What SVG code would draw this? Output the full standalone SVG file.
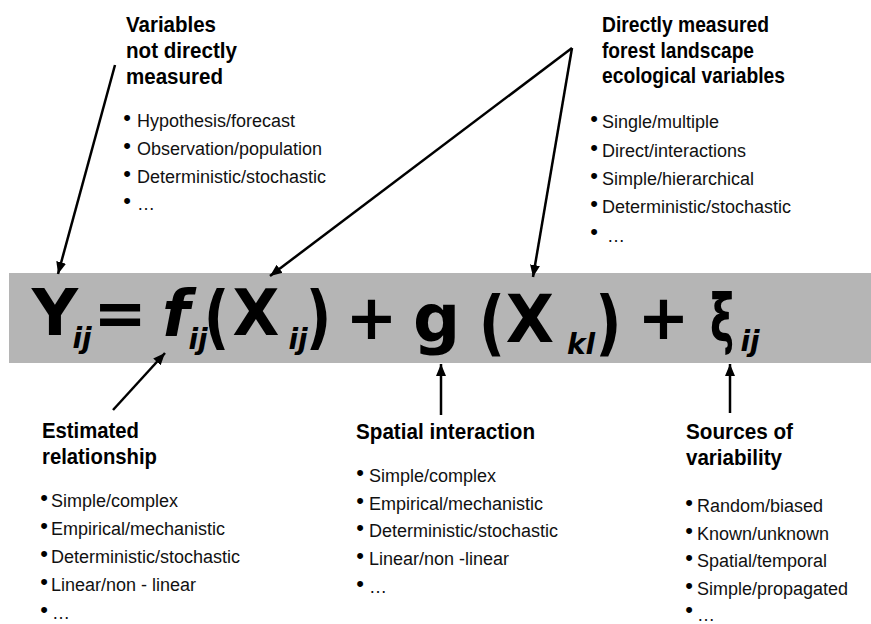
<svg xmlns="http://www.w3.org/2000/svg" width="871" height="624" viewBox="0 0 871 624">
<style>
.hd{font-family:"Liberation Sans",Arial,sans-serif;font-weight:bold;font-size:22px;fill:#000}
.it{font-family:"Liberation Sans",Arial,sans-serif;font-size:18px;fill:#111}
.bl{font-family:"Liberation Sans",Arial,sans-serif;font-size:22px;fill:#000;text-anchor:middle}
.eq{font-family:"DejaVu Sans",Verdana,sans-serif;font-weight:bold;fill:#000;text-anchor:middle}
.sub{font-family:"DejaVu Sans",Verdana,sans-serif;font-weight:bold;font-style:italic;font-size:28px;fill:#000;text-anchor:middle}
.ar{stroke:#000;stroke-width:2.5;fill:none;marker-end:url(#ah)}
</style>
<defs>
<marker id="ah" viewBox="0 0 12 10" refX="12" refY="5" markerWidth="12" markerHeight="10" orient="auto" markerUnits="userSpaceOnUse"><path d="M0,0 L12,5 L0,10 z" fill="#000"/></marker>
</defs>
<rect width="871" height="624" fill="#fff"/>
<g id="equation">
<rect x="9" y="273" width="862" height="90" fill="#b5b5b5"/>
<text class="eq" x="55" y="335" font-size="64">Y</text>
<text class="sub" x="82" y="348">ij</text>
<text class="eq" x="120" y="335" font-size="64">=</text>
<text class="eq" x="176" y="336" font-size="64" font-style="italic">f</text>
<text class="sub" x="198" y="349">ij</text>
<text class="eq" transform="translate(216.5,341) scale(0.8,1)" x="0" y="0" font-size="70">(</text>
<text class="eq" transform="translate(256,335) scale(0.95,1)" x="0" y="0" font-size="64">X</text>
<text class="sub" x="298" y="349">ij</text>
<text class="eq" transform="translate(318.5,341) scale(0.8,1)" x="0" y="0" font-size="70">)</text>
<text class="eq" x="371.5" y="339" font-size="62">+</text>
<text class="eq" x="436.5" y="341" font-size="66">g</text>
<text class="eq" transform="translate(492,347) scale(0.8,1)" x="0" y="0" font-size="72">(</text>
<text class="eq" transform="translate(530,342) scale(0.95,1)" x="0" y="0" font-size="66">X</text>
<text class="sub" x="581" y="354">kl</text>
<text class="eq" transform="translate(608.5,347) scale(0.8,1)" x="0" y="0" font-size="72">)</text>
<text class="eq" x="663.5" y="339" font-size="62">+</text>
<text class="eq" transform="translate(722,341) scale(0.62,1)" x="0" y="0" font-size="66">ξ</text>
<text class="sub" x="750" y="351">ij</text>
</g>
<g id="connectors">
<line class="ar" x1="115" y1="65" x2="58" y2="274"/>
<line class="ar" x1="572" y1="48" x2="270" y2="276"/>
<line class="ar" x1="572" y1="48" x2="533" y2="277"/>
<line class="ar" x1="113" y1="410" x2="165" y2="353"/>
<line class="ar" x1="441" y1="415" x2="441" y2="364"/>
<line class="ar" x1="730" y1="413" x2="730" y2="364"/>
</g>
<g id="not-measured">
<text class="hd" x="126" y="32" textLength="90" lengthAdjust="spacingAndGlyphs">Variables</text>
<text class="hd" x="126" y="58" textLength="111" lengthAdjust="spacingAndGlyphs">not directly</text>
<text class="hd" x="126" y="84" textLength="97" lengthAdjust="spacingAndGlyphs">measured</text>
<text class="bl" x="127" y="125">•</text><text class="it" x="137" y="127">Hypothesis/forecast</text>
<text class="bl" x="127" y="153">•</text><text class="it" x="137" y="155">Observation/population</text>
<text class="bl" x="127" y="181">•</text><text class="it" x="137" y="183">Deterministic/stochastic</text>
<text class="bl" x="127" y="208">•</text><text class="it" x="137" y="210">…</text>
</g>
<g id="measured">
<text class="hd" x="602" y="32" textLength="167" lengthAdjust="spacingAndGlyphs">Directly measured</text>
<text class="hd" x="602" y="58" textLength="152" lengthAdjust="spacingAndGlyphs">forest landscape</text>
<text class="hd" x="602" y="83" textLength="183" lengthAdjust="spacingAndGlyphs">ecological variables</text>
<text class="bl" x="594" y="126">•</text><text class="it" x="602" y="128">Single/multiple</text>
<text class="bl" x="594" y="155">•</text><text class="it" x="602" y="157">Direct/interactions</text>
<text class="bl" x="594" y="183">•</text><text class="it" x="602" y="185">Simple/hierarchical</text>
<text class="bl" x="594" y="211">•</text><text class="it" x="602" y="213">Deterministic/stochastic</text>
<text class="bl" x="594" y="239">•</text><text class="it" x="607" y="242">…</text>
</g>
<g id="estimated">
<text class="hd" x="42" y="438" textLength="97" lengthAdjust="spacingAndGlyphs">Estimated</text>
<text class="hd" x="42" y="464" textLength="115" lengthAdjust="spacingAndGlyphs">relationship</text>
<text class="bl" x="44" y="505">•</text><text class="it" x="51" y="507">Simple/complex</text>
<text class="bl" x="44" y="533">•</text><text class="it" x="51" y="535">Empirical/mechanistic</text>
<text class="bl" x="44" y="561">•</text><text class="it" x="51" y="563">Deterministic/stochastic</text>
<text class="bl" x="44" y="589">•</text><text class="it" x="51" y="591">Linear/non - linear</text>
<text class="bl" x="44" y="617">•</text><text class="it" x="52" y="619">…</text>
</g>
<g id="spatial">
<text class="hd" x="356" y="439" textLength="179" lengthAdjust="spacingAndGlyphs">Spatial interaction</text>
<text class="bl" x="360" y="480">•</text><text class="it" x="369" y="482">Simple/complex</text>
<text class="bl" x="360" y="508">•</text><text class="it" x="369" y="510">Empirical/mechanistic</text>
<text class="bl" x="360" y="535">•</text><text class="it" x="369" y="537">Deterministic/stochastic</text>
<text class="bl" x="360" y="563">•</text><text class="it" x="369" y="565">Linear/non -linear</text>
<text class="bl" x="360" y="591">•</text><text class="it" x="369" y="593">…</text>
</g>
<g id="variability">
<text class="hd" x="686" y="439" textLength="107" lengthAdjust="spacingAndGlyphs">Sources of</text>
<text class="hd" x="686" y="465" textLength="96" lengthAdjust="spacingAndGlyphs">variability</text>
<text class="bl" x="689" y="510">•</text><text class="it" x="697" y="512">Random/biased</text>
<text class="bl" x="689" y="538">•</text><text class="it" x="697" y="540">Known/unknown</text>
<text class="bl" x="689" y="565">•</text><text class="it" x="697" y="567">Spatial/temporal</text>
<text class="bl" x="689" y="593">•</text><text class="it" x="697" y="595">Simple/propagated</text>
<text class="bl" x="689" y="617">•</text><text class="it" x="697" y="621">…</text>
</g>
</svg>
